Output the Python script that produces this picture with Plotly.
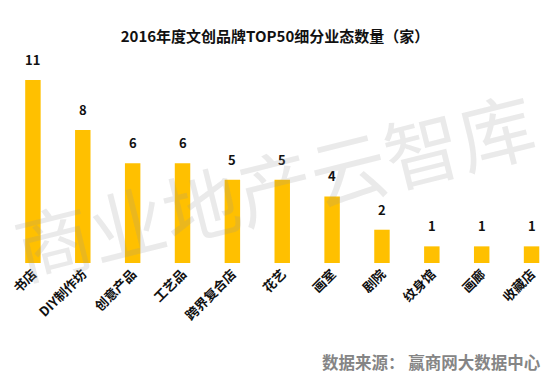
import plotly.graph_objects as go

categories = ["书店", "DIY制作坊", "创意产品", "工艺品", "跨界复合店", "花艺", "画室", "剧院", "纹身馆", "画廊", "收藏店"]
values = [11, 8, 6, 6, 5, 5, 4, 2, 1, 1, 1]

title_text = "2016年度文创品牌TOP50细分业态数量（家）"
source_text = "数据来源： 赢商网大数据中心"
watermark_text = "商业地产云智库"

FONT = "Noto Sans CJK SC"

fig = go.Figure()
fig.add_trace(go.Bar(
    x=categories, y=values,
    marker=dict(color="#FFC000", line=dict(width=0)),
    hoverinfo="x+y",
))

annotations = [
    dict(x=c, y=v, xref="x", yref="y", text=str(v), showarrow=False,
         xanchor="center", yanchor="bottom", yshift=9,
         font=dict(family=FONT, size=13, color="#111111", weight="bold"))
    for c, v in zip(categories, values)
]
annotations += [
    dict(text=source_text, xref="paper", yref="paper", x=(543 - 8) / 542, y=-0.465,
         xanchor="right", yanchor="middle",
         showarrow=False, font=dict(family=FONT, size=16.5, color="#858585", weight="bold")),
    dict(text=watermark_text, xref="paper", yref="paper", x=0.49, y=0.37, xanchor="center", yanchor="middle",
         showarrow=False, textangle=-14,
         font=dict(family=FONT, size=76, color="rgba(150,150,150,0.2)")),
]

fig.update_layout(
    width=550, height=383,
    margin=dict(l=8, r=0, t=50, b=120),
    paper_bgcolor="white", plot_bgcolor="white",
    bargap=0.69,
    showlegend=False,
    title=dict(text=title_text, x=0.5, xanchor="center", y=0.905, yanchor="middle",
               font=dict(family=FONT, size=15, color="#111111", weight="bold")),
    xaxis=dict(range=[-0.5, 10.37], tickangle=-45, showgrid=False, showline=False, ticks="",
               automargin=False,
               tickfont=dict(family=FONT, size=13, color="#111111", weight="bold")),
    yaxis=dict(range=[0, 12.8], visible=False, showgrid=False, automargin=False),
    annotations=annotations,
)

fig.write_html("out.html", config={"displayModeBar": False},
               post_script="document.body.style.margin='0';document.body.style.overflow='hidden';")
